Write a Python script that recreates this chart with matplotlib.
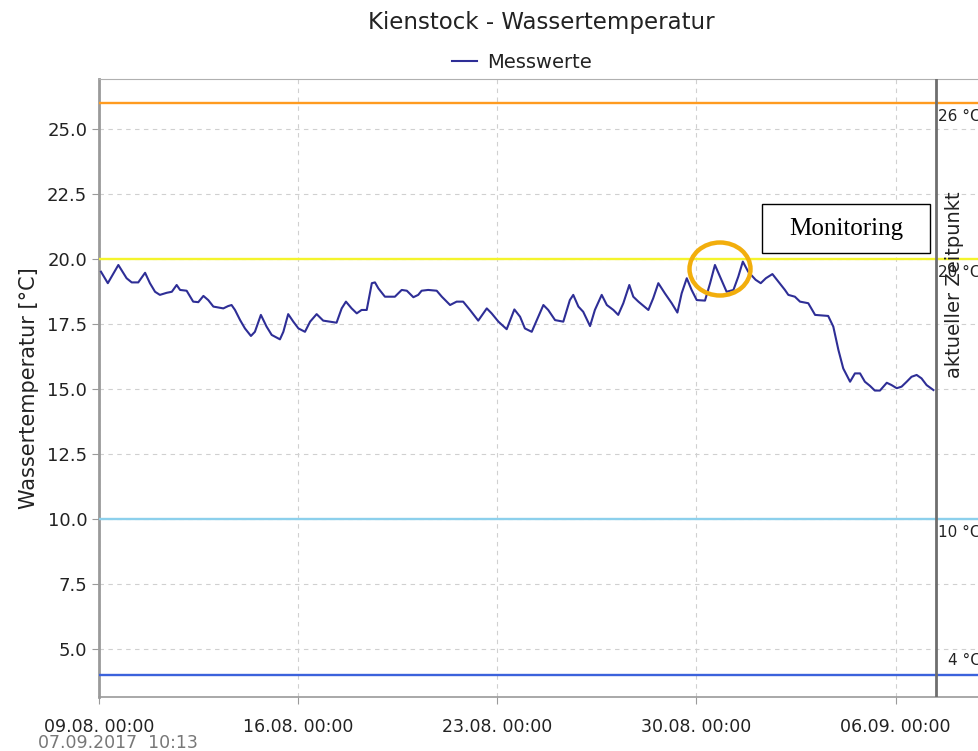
import datetime as dt

import matplotlib

matplotlib.use("Agg")
import matplotlib.pyplot as plt  # noqa: E402
import matplotlib.dates as mdates  # noqa: E402
from matplotlib.patches import Ellipse, Rectangle  # noqa: E402

START = dt.datetime(2017, 8, 9)
NOW = dt.datetime(2017, 9, 7, 10, 13)

# measurement series: days since 09.08. 00:00 and water temperature in °C
day_offset = [
    0.07, 0.31, 0.68, 0.97, 1.15, 1.38, 1.62, 1.79, 1.97, 2.14, 2.38, 2.56, 2.73,
    2.85, 3.08, 3.31, 3.49, 3.67, 3.84, 4.02, 4.37, 4.54, 4.66, 4.78, 4.96, 5.13,
    5.34, 5.48, 5.69, 5.89, 6.07, 6.36, 6.48, 6.65, 6.83, 7.01, 7.24, 7.42, 7.65,
    7.88, 8.35, 8.53, 8.68, 8.88, 9.06, 9.23, 9.41, 9.59, 9.70, 9.82, 10.05, 10.40,
    10.64, 10.82, 11.05, 11.22, 11.34, 11.57, 11.87, 12.05, 12.34, 12.57, 12.80,
    13.04, 13.33, 13.63, 13.80, 14.04, 14.33, 14.60, 14.80, 14.97, 15.21, 15.44,
    15.62, 15.79, 16.03, 16.32, 16.55, 16.67, 16.85, 17.02, 17.26, 17.43, 17.67,
    17.85, 18.08, 18.25, 18.43, 18.64, 18.78, 18.96, 19.31, 19.48, 19.66, 19.89,
    20.13, 20.33, 20.48, 20.66, 20.83, 21.01, 21.30, 21.48, 21.65, 21.83, 22.06,
    22.30, 22.47, 22.63, 22.82, 23.08, 23.26, 23.44, 23.67, 23.88, 24.11, 24.23,
    24.46, 24.64, 24.93, 25.17, 25.63, 25.81, 25.99, 26.16, 26.40, 26.57, 26.75,
    26.92, 27.10, 27.27, 27.45, 27.69, 27.86, 28.04, 28.21, 28.39, 28.56, 28.74,
    28.91, 29.09, 29.33,
]
temperature = [
    19.51, 19.07, 19.77, 19.26, 19.10, 19.10, 19.47, 19.07, 18.74, 18.62, 18.70,
    18.74, 19.00, 18.81, 18.78, 18.36, 18.34, 18.58, 18.42, 18.17, 18.10, 18.19,
    18.23, 18.04, 17.65, 17.33, 17.04, 17.20, 17.85, 17.40, 17.08, 16.91, 17.20,
    17.88, 17.59, 17.33, 17.20, 17.59, 17.88, 17.63, 17.55, 18.10, 18.36, 18.10,
    17.91, 18.04, 18.04, 19.07, 19.10, 18.87, 18.55, 18.55, 18.81, 18.78, 18.53,
    18.62, 18.78, 18.81, 18.78, 18.55, 18.23, 18.36, 18.36, 18.04, 17.63, 18.10,
    17.91, 17.59, 17.30, 18.06, 17.78, 17.33, 17.20, 17.78, 18.23, 18.04, 17.65,
    17.59, 18.42, 18.62, 18.17, 17.97, 17.42, 18.04, 18.62, 18.23, 18.04, 17.85,
    18.30, 19.00, 18.55, 18.36, 18.04, 18.49, 19.07, 18.68, 18.30, 17.94, 18.68,
    19.26, 18.81, 18.42, 18.40, 19.07, 19.77, 19.32, 18.74, 18.81, 19.32, 19.90,
    19.51, 19.20, 19.07, 19.26, 19.42, 19.13, 18.81, 18.62, 18.55, 18.36, 18.30,
    17.85, 17.81, 17.40, 16.50, 15.79, 15.28, 15.60, 15.60, 15.28, 15.12, 14.94,
    14.94, 15.24, 15.15, 15.03, 15.09, 15.28, 15.47, 15.54, 15.41, 15.15, 14.96,
]

threshold_values = [26, 20, 10, 4]
threshold_labels = ["26 °C", "20 °C", "10 °C", "4 °C"]
threshold_colors = ["#ff9b1f", "#f4f42c", "#8cd0ec", "#3b62dc"]

tick_dates = [
    dt.datetime(2017, 8, 9), dt.datetime(2017, 8, 16), dt.datetime(2017, 8, 23),
    dt.datetime(2017, 8, 30), dt.datetime(2017, 9, 6),
]
y_ticks = [5.0, 7.5, 10.0, 12.5, 15.0, 17.5, 20.0, 22.5, 25.0]

LINE = "#2e2e96"
SPINE = "#9a9a9a"
TEXT = "#222222"

W, H = 979, 751
fig = plt.figure(figsize=(W / 100, H / 100), dpi=100)
# axes run a little past the right edge of the picture, as in the screenshot
ax = fig.add_axes([99 / W, 54 / H, 886 / W, 618 / H])

times = [START + dt.timedelta(days=d) for d in day_offset]
ax.plot(times, temperature, color=LINE, linewidth=1.5, zorder=4, label="Messwerte")

for val, label, col in zip(threshold_values, threshold_labels, threshold_colors):
    ax.axhline(val, color=col, linewidth=1.7, zorder=3)
    below = val > 5
    ax.annotate(label, xy=(1.0, val), xycoords=("axes fraction", "data"),
                xytext=(-3, -4 if below else 5), textcoords="offset points",
                ha="right", va="top" if below else "bottom", fontsize=11,
                color=TEXT, zorder=6)

ax.axvline(NOW, color="#6e6e6e", linewidth=2, zorder=5)
ax.annotate("aktueller Zeitpunkt", xy=(NOW, 0.667), xycoords=("data", "axes fraction"),
            xytext=(13, 0), textcoords="offset points", rotation=90,
            ha="center", va="center", fontsize=14, color=TEXT, zorder=6)

ax.set_xlim(START, START + dt.timedelta(days=886 / 28.45))
ax.set_ylim(25 - 568 / 26, 25 + 50 / 26)
ax.set_xticks(tick_dates)
ax.xaxis.set_major_formatter(mdates.DateFormatter("%d.%m. %H:%M"))
ax.set_yticks(y_ticks)
ax.yaxis.set_major_formatter(matplotlib.ticker.FormatStrFormatter("%.1f"))

ax.grid(True, color="#d0d0d0", linestyle=(0, (4, 4)), linewidth=0.8)
ax.set_axisbelow(True)
ax.spines["right"].set_visible(False)
ax.spines["left"].set_color(SPINE)
ax.spines["left"].set_linewidth(2)
ax.spines["bottom"].set_color(SPINE)
ax.spines["bottom"].set_linewidth(1.2)
ax.spines["top"].set_color("#b0b0b0")
ax.tick_params(axis="both", direction="out", color=SPINE, length=5, labelcolor=TEXT)
ax.tick_params(axis="x", pad=10, labelsize=12.5)
ax.tick_params(axis="y", labelsize=13)
ax.set_ylabel("Wassertemperatur [°C]", fontsize=15, color=TEXT, labelpad=6)

fig.text(541 / W, 1 - 22 / H, "Kienstock - Wassertemperatur", ha="center", va="center",
         fontsize=16.5, color=TEXT)
fig.legend(loc="center", bbox_to_anchor=(522 / W, 1 - 62 / H), frameon=False,
           fontsize=14, handlelength=1.3, handletextpad=0.5, labelcolor=TEXT)
fig.text(38 / W, 1 - 743 / H, "07.09.2017  10:13", ha="left", va="center",
         fontsize=12.5, color="#777777")

# hand-drawn highlight as in the source screenshot
fig.add_artist(Rectangle((762 / W, 1 - 253 / H), 168 / W, 49 / H, transform=fig.transFigure,
                         facecolor="white", edgecolor="black", linewidth=1, zorder=10))
fig.text(846 / W, 1 - 229 / H, "Monitoring", ha="center", va="center", fontsize=18,
         family="Liberation Serif", color="black", zorder=11)
fig.add_artist(Ellipse((720 / W, 1 - 269 / H), 61 / W, 53 / H, transform=fig.transFigure,
                       fill=False, edgecolor="#f2ae0c", linewidth=3.2, zorder=10))

fig.savefig("out.png", dpi=100)
